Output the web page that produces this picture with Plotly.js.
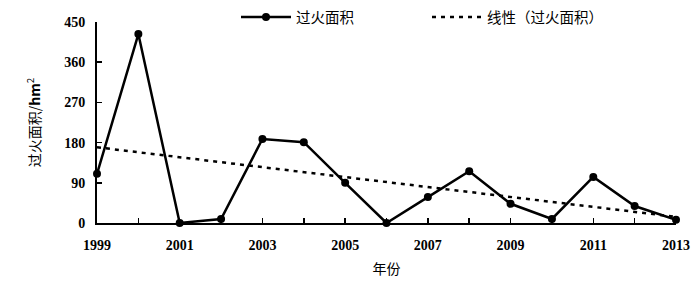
<!DOCTYPE html>
<html><head><meta charset="utf-8">
<script src="https://cdn.plot.ly/plotly-3.0.1.min.js"></script>
<style>html,body{margin:0;padding:0;background:#fff}</style>
</head><body>
<div id="chart" style="width:700px;height:286px"></div>
<script>
var years = [1999,2000,2001,2002,2003,2004,2005,2006,2007,2008,2009,2010,2011,2012,2013];
var area = [110,423,0,9,188,181,90,0,58,116,43,9,103,38,7];
var yTicks = [0,90,180,270,360,450];
var xTickVals = [1999,2001,2003,2005,2007,2009,2011,2013];
var xTickLabels = ['1999','2001','2003','2005','2007','2009','2011','2013'];

// least-squares linear trend of the area series (like the original's "线性" trendline)
var n = years.length, mx = 0, my = 0;
for (var i=0;i<n;i++){mx+=years[i];my+=area[i];}
mx/=n; my/=n;
var sxy=0, sxx=0;
for (var i=0;i<n;i++){sxy+=(years[i]-mx)*(area[i]-my);sxx+=(years[i]-mx)*(years[i]-mx);}
var slope=sxy/sxx, icpt=my-slope*mx;
var trendX=[years[0], years[n-1]];
var trendY=trendX.map(function(x){return icpt+slope*x;});

var cjk = '"Noto Sans CJK SC", sans-serif';
var serif = '"Liberation Serif", "Times New Roman", serif';

var data = [
  {x: years, y: area, name: '过火面积', type: 'scatter', mode: 'lines+markers',
   line: {color: '#000', width: 2.5}, marker: {color: '#000', size: 8}, cliponaxis: false},
  {x: trendX, y: trendY, name: '线性（过火面积）', type: 'scatter', mode: 'lines',
   line: {color: '#000', width: 2.5, dash: '4px,5px'}, cliponaxis: false}
];

var layout = {
  width: 700, height: 286,
  margin: {l: 97, r: 24, t: 22, b: 63, autoexpand: false},
  paper_bgcolor: '#fff', plot_bgcolor: '#fff',
  showlegend: true,
  legend: {orientation: 'h', xref: 'container', yref: 'container', x: 236/700, xanchor: 'left',
           y: 1 - 17/286, yanchor: 'middle', itemwidth: 50,
           font: {family: cjk, size: 14.5, color: '#000'}, entrywidth: 126, traceorder: 'normal',
           bgcolor: 'rgba(0,0,0,0)'},
  xaxis: {range: [1999, 2013], tickvals: xTickVals, ticktext: xTickLabels,
          ticks: 'inside', ticklen: 5, tickwidth: 1.5, tickcolor: '#000', ticklabelstandoff: 8,
          minor: {dtick: 1, tick0: 1999, ticks: 'inside', ticklen: 5, tickwidth: 1.5, tickcolor: '#000', showgrid: false},
          showline: true, linecolor: '#000', linewidth: 2, showgrid: false, zeroline: false,
          tickfont: {family: serif, size: 14, color: '#000', weight: 'bold'},
          title: {text: '年份', font: {family: cjk, size: 14, color: '#000'}, standoff: 12}},
  yaxis: {range: [0, 450], tickvals: yTicks, ticks: 'inside', ticklen: 5, tickwidth: 1.5,
          tickcolor: '#000', ticklabelstandoff: 7, showline: true, linecolor: '#000', linewidth: 2,
          showgrid: false, zeroline: false,
          tickfont: {family: serif, size: 14, color: '#000', weight: 'bold'},
          title: {text: '过火面积/<b>hm</b><sup>2</sup>', font: {family: cjk, size: 14, color: '#000'}, standoff: 20}}
};

Plotly.newPlot('chart', data, layout, {displayModeBar: false, staticPlot: true});
</script>
</body></html>
